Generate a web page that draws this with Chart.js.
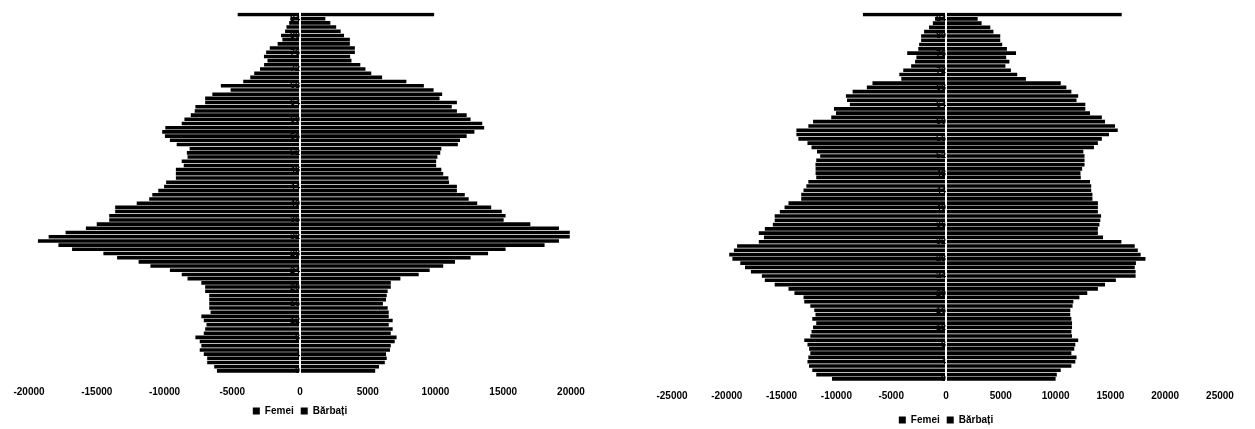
<!DOCTYPE html>
<html>
<head>
<meta charset="utf-8">
<script src="https://cdn.jsdelivr.net/npm/chart.js@4.4.1/dist/chart.umd.min.js"></script>
<style>
  html, body { margin: 0; padding: 0; background: #fff; }
  .box { position: absolute; top: 0; height: 429px; }
</style>
</head>
<body>
<div class="box" style="left:0;width:620px"><canvas id="left"></canvas></div>
<div class="box" style="left:630px;width:625px"><canvas id="right"></canvas></div>
<script>
// age groups, top row first
const ages = ['85+', '84', '83', '82', '81', '80', '79', '78', '77', '76', '75', '74', '73', '72', '71',
  '70', '69', '68', '67', '66', '65', '64', '63', '62', '61', '60', '59', '58', '57', '56', '55',
  '54', '53', '52', '51', '50', '49', '48', '47', '46', '45', '44', '43', '42', '41', '40', '39',
  '38', '37', '36', '35', '34', '33', '32', '31', '30', '29', '28', '27', '26', '25', '24', '23',
  '22', '21', '20', '19', '18', '17', '16', '15', '14', '13', '12', '11', '10', '9', '8', '7',
  '6', '5', '4', '3', '2', '1', '0'];

// left pyramid
const femeiA = [-4600, -700, -800, -1000, -1100, -1400, -1300, -1650, -2230, -2500, -2660, -2400,
  -2650, -2950, -3380, -3670, -4190, -5840, -5120, -6470, -7000, -7000, -7720, -7770, -8060,
  -8530, -8730, -9940, -10170, -9970, -9600, -9100, -8150, -8350, -8300, -8730, -8580, -9160,
  -9160, -9160, -9880, -10030, -10460, -10900, -11130, -12050, -13640, -13640, -14080, -14080,
  -15000, -15800, -17300, -18550, -19340, -17830, -16820, -14510, -13500, -11910, -11040, -9600,
  -8730, -8300, -7280, -7000, -7000, -6700, -6700, -6700, -6700, -6600, -7280, -7100, -6900,
  -7000, -7100, -7720, -7400, -7280, -7400, -7100, -6850, -6850, -6330, -6130];
const barbatiA = [9900, 1870, 2240, 2670, 3000, 3250, 3680, 3680, 4050, 4050, 3700, 3800, 4450,
  4830, 5260, 6060, 7850, 9140, 9860, 10490, 10300, 11580, 11200, 11580, 12300, 12590, 13450,
  13590, 12870, 12300, 11810, 11650, 10430, 10350, 10140, 10050, 10050, 10430, 10570, 10950,
  11000, 11580, 11580, 12160, 12450, 13080, 14110, 14890, 15170, 15030, 17000, 19110, 19910,
  19910, 19110, 18050, 15170, 13880, 12590, 11440, 10570, 9570, 8760, 7410, 6700, 6700, 6470,
  6400, 6350, 6120, 6470, 6550, 6550, 6840, 6550, 6840, 6700, 7130, 6990, 6700, 6640, 6350,
  6400, 6260, 5830, 5550];

// right pyramid
const femeiB = [-7580, -1000, -1200, -1550, -2000, -2270, -2270, -2450, -2530, -3540, -2700,
  -2820, -3180, -3900, -4260, -4080, -6710, -7220, -8520, -9130, -9030, -8770, -10220, -10040,
  -10470, -12130, -12560, -13650, -13650, -13470, -12640, -12270, -11770, -11480, -11840, -11910,
  -11900, -11900, -11840, -12560, -12740, -13000, -13210, -13210, -14370, -14730, -15160, -15630,
  -15630, -15800, -16530, -17080, -16610, -17080, -19060, -19350, -19780, -19490, -18770, -18340,
  -17800, -16800, -16530, -15630, -14370, -13830, -13000, -12930, -12380, -12020, -11910, -12200,
  -11840, -12130, -12270, -12380, -12930, -12640, -12490, -12380, -12560, -12640, -12500, -12200,
  -11840, -10400];
const barbatiB = [16030, 2890, 3250, 4040, 4330, 4950, 4950, 5130, 5560, 6390, 5490, 5780, 5420,
  5920, 6500, 7290, 10470, 10980, 11440, 12060, 11910, 12710, 12710, 13140, 14220, 14510, 15420,
  15670, 14870, 14220, 13860, 13500, 12530, 12640, 12640, 12640, 12420, 12270, 12300, 13140,
  13250, 13250, 13360, 13360, 13860, 13860, 13860, 14150, 14080, 14000, 13860, 13860, 14330,
  16000, 17220, 17500, 17760, 18200, 17330, 17220, 17300, 17300, 15500, 14510, 13860, 12890,
  12170, 11620, 11550, 11340, 11340, 11440, 11500, 11500, 11440, 11500, 12060, 11800, 11700,
  11440, 11910, 11800, 11440, 10470, 10110, 10000];

const font = { family: 'Liberation Sans, Arial, sans-serif', size: 10, weight: 'bold' };

function pyramid(id, female, male, lim, pad, tickPad, axisH) {
  new Chart(document.getElementById(id), {
    type: 'bar',
    data: {
      labels: ages,
      datasets: [
        { label: 'Femei', data: female, backgroundColor: '#000', barPercentage: 0.85, categoryPercentage: 1 },
        { label: 'Bărbați', data: male, backgroundColor: '#000', barPercentage: 0.85, categoryPercentage: 1 }
      ]
    },
    options: {
      indexAxis: 'y',
      animation: false,
      responsive: true,
      maintainAspectRatio: false,
      layout: { padding: pad },
      scales: {
        x: {
          stacked: true, min: -lim, max: lim,
          grid: { display: false, drawTicks: false },
          border: { display: false },
          ticks: { stepSize: 5000, color: '#000', font, padding: tickPad, maxRotation: 0,
            callback: (v) => String(v) },
          afterFit: (s) => { s.height = axisH; }
        },
        y: {
          stacked: true,
          position: { x: 0 },
          grid: { display: false, drawTicks: false },
          border: { color: '#fff', width: 2, z: 1 },
          ticks: {
            z: 1, autoSkip: false, color: '#000', padding: 7,
            font: { family: 'Liberation Sans, Arial, sans-serif', size: 9, weight: 'bold' },
            callback: (v, i) => (parseInt(ages[i]) % 4 === 0 ? ages[i] : '')
          }
        }
      },
      plugins: {
        legend: {
          position: 'bottom',
          labels: { boxWidth: 7, boxHeight: 7, color: '#000', font, padding: 7 }
        },
        tooltip: { enabled: false }
      }
    }
  });
}

pyramid('left', femeiA, barbatiA, 20000, { left: 29, right: 49, top: 0, bottom: 3 }, 13, 26);
pyramid('right', femeiB, barbatiB, 25000, { left: 42, right: 35, top: 0, bottom: -6 }, 9, 27);
</script>
</body>
</html>
